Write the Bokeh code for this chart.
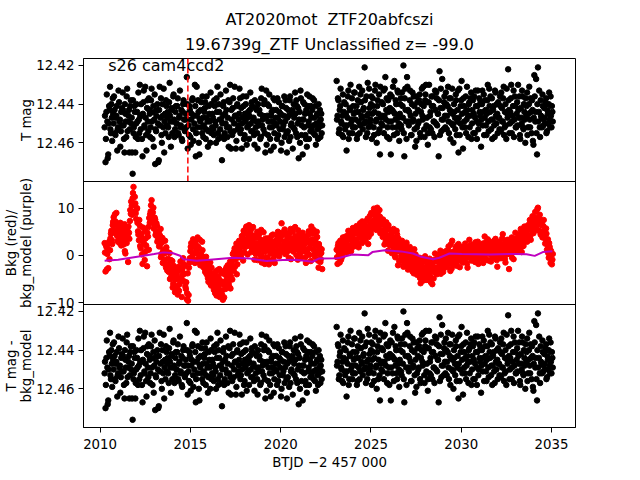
from bokeh.plotting import figure
from bokeh.models import Range1d, FixedTicker, Span, Label, Title, LinearAxis
from bokeh.embed import file_html
from bokeh.resources import INLINE

# ---------------- data ----------------
btjd_s1 = [
    2010.25, 2010.30, 2010.35, 2010.40, 2010.45, 2010.50, 2010.55, 2010.60, 2010.65, 2010.70,
    2010.75, 2010.80, 2010.85, 2010.90, 2010.95, 2011.00, 2011.05, 2011.10, 2011.15, 2011.20,
    2011.25, 2011.30, 2011.35, 2011.40, 2011.45, 2011.50, 2011.55, 2011.60, 2011.65, 2011.70,
    2011.75, 2011.80, 2011.85, 2011.90, 2011.95, 2012.00, 2012.05, 2012.10, 2012.15, 2012.20,
    2012.25, 2012.30, 2012.35, 2012.40, 2012.45, 2012.50, 2012.55, 2012.60, 2012.65, 2012.70,
    2012.75, 2012.80, 2012.85, 2012.90, 2012.95, 2013.00, 2013.05, 2013.10, 2013.15, 2013.20,
    2013.25, 2013.30, 2013.35, 2013.40, 2013.45, 2013.50, 2013.55, 2013.60, 2013.65, 2013.70,
    2013.75, 2013.80, 2013.85, 2013.90, 2013.95, 2014.00, 2014.05, 2014.10, 2014.15, 2014.20,
    2014.25, 2014.30, 2014.35, 2014.40, 2014.45, 2014.50, 2014.55, 2014.60, 2014.65, 2014.70,
    2014.75, 2014.80, 2014.85, 2014.90, 2014.95, 2015.00, 2015.05, 2015.10, 2015.15, 2015.20,
    2015.25, 2015.30, 2015.35, 2015.40, 2015.45, 2015.50, 2015.55, 2015.60, 2015.65, 2015.70,
    2015.75, 2015.80, 2015.85, 2015.90, 2015.95, 2016.00, 2016.05, 2016.10, 2016.15, 2016.20,
    2016.25, 2016.30, 2016.35, 2016.40, 2016.45, 2016.50, 2016.55, 2016.60, 2016.65, 2016.70,
    2016.75, 2016.80, 2016.85, 2016.90, 2016.95, 2017.00, 2017.05, 2017.10, 2017.15, 2017.20,
    2017.25, 2017.30, 2017.35, 2017.40, 2017.45, 2017.50, 2017.55, 2017.60, 2017.65, 2017.70,
    2017.75, 2017.80, 2017.85, 2017.90, 2017.95, 2018.00, 2018.05, 2018.10, 2018.15, 2018.20,
    2018.25, 2018.30, 2018.35, 2018.40, 2018.45, 2018.50, 2018.55, 2018.60, 2018.65, 2018.70,
    2018.75, 2018.80, 2018.85, 2018.90, 2018.95, 2019.00, 2019.05, 2019.10, 2019.15, 2019.20,
    2019.25, 2019.30, 2019.35, 2019.40, 2019.45, 2019.50, 2019.55, 2019.60, 2019.65, 2019.70,
    2019.75, 2019.80, 2019.85, 2019.90, 2019.95, 2020.00, 2020.05, 2020.10, 2020.15, 2020.20,
    2020.25, 2020.30, 2020.35, 2020.40, 2020.45, 2020.50, 2020.55, 2020.60, 2020.65, 2020.70,
    2020.75, 2020.80, 2020.85, 2020.90, 2020.95, 2021.00, 2021.05, 2021.10, 2021.15, 2021.20,
    2021.25, 2021.30, 2021.35, 2021.40, 2021.45, 2021.50, 2021.55, 2021.60, 2021.65, 2021.70,
    2021.75, 2021.80, 2021.85, 2021.90, 2021.95, 2022.00, 2022.05, 2022.10, 2022.15, 2022.20,
    2022.25, 2022.30,
]
btjd_s1b = [
    2010.27, 2010.32, 2010.37, 2010.42, 2010.47, 2010.52, 2010.57, 2010.62, 2010.67, 2010.72,
    2010.77, 2010.82, 2010.87, 2010.92, 2010.97, 2011.02, 2011.07, 2011.12, 2011.17, 2011.22,
    2011.27, 2011.32, 2011.37, 2011.42, 2011.47, 2011.52, 2011.57, 2011.62, 2011.67, 2011.72,
    2011.77, 2011.82, 2011.87, 2011.92, 2011.97, 2012.02, 2012.07, 2012.12, 2012.17, 2012.22,
    2012.27, 2012.32, 2012.37, 2012.42, 2012.47, 2012.52, 2012.57, 2012.62, 2012.67, 2012.72,
    2012.77, 2012.82, 2012.87, 2012.92, 2012.97, 2013.02, 2013.07, 2013.12, 2013.17, 2013.22,
    2013.27, 2013.32, 2013.37, 2013.42, 2013.47, 2013.52, 2013.57, 2013.62, 2013.67, 2013.72,
    2013.77, 2013.82, 2013.87, 2013.92, 2013.97, 2014.02, 2014.07, 2014.12, 2014.17, 2014.22,
    2014.27, 2014.32, 2014.37, 2014.42, 2014.47, 2014.52, 2014.57, 2014.62, 2014.67, 2014.72,
    2014.77, 2014.82, 2014.87, 2014.92, 2014.97, 2015.02, 2015.07, 2015.12, 2015.17, 2015.22,
    2015.27, 2015.32, 2015.37, 2015.42, 2015.47, 2015.52, 2015.57, 2015.62, 2015.67, 2015.72,
    2015.77, 2015.82, 2015.87, 2015.92, 2015.97, 2016.02, 2016.07, 2016.12, 2016.17, 2016.22,
    2016.27, 2016.32, 2016.37, 2016.42, 2016.47, 2016.52, 2016.57, 2016.62, 2016.67, 2016.72,
    2016.77, 2016.82, 2016.87, 2016.92, 2016.97, 2017.02, 2017.07, 2017.12, 2017.17, 2017.22,
    2017.27, 2017.32, 2017.37, 2017.42, 2017.47, 2017.52, 2017.57, 2017.62, 2017.67, 2017.72,
    2017.77, 2017.82, 2017.87, 2017.92, 2017.97, 2018.02, 2018.07, 2018.12, 2018.17, 2018.22,
    2018.27, 2018.32, 2018.37, 2018.42, 2018.47, 2018.52, 2018.57, 2018.62, 2018.67, 2018.72,
    2018.77, 2018.82, 2018.87, 2018.92, 2018.97, 2019.02, 2019.07, 2019.12, 2019.17, 2019.22,
    2019.27, 2019.32, 2019.37, 2019.42, 2019.47, 2019.52, 2019.57, 2019.62, 2019.67, 2019.72,
    2019.77, 2019.82, 2019.87, 2019.92, 2019.97, 2020.02, 2020.07, 2020.12, 2020.17, 2020.22,
    2020.27, 2020.32, 2020.37, 2020.42, 2020.47, 2020.52, 2020.57, 2020.62, 2020.67, 2020.72,
    2020.77, 2020.82, 2020.87, 2020.92, 2020.97, 2021.02, 2021.07, 2021.12, 2021.17, 2021.22,
    2021.27, 2021.32, 2021.37, 2021.42, 2021.47, 2021.52, 2021.57, 2021.62, 2021.67, 2021.72,
    2021.77, 2021.82, 2021.87, 2021.92, 2021.97, 2022.02, 2022.07, 2022.12, 2022.17, 2022.22,
    2022.27,
]
btjd_s2 = [
    2023.10, 2023.15, 2023.20, 2023.25, 2023.30, 2023.35, 2023.40, 2023.45, 2023.50, 2023.55,
    2023.60, 2023.65, 2023.70, 2023.75, 2023.80, 2023.85, 2023.90, 2023.95, 2024.00, 2024.05,
    2024.10, 2024.15, 2024.20, 2024.25, 2024.30, 2024.35, 2024.40, 2024.45, 2024.50, 2024.55,
    2024.60, 2024.65, 2024.70, 2024.75, 2024.80, 2024.85, 2024.90, 2024.95, 2025.00, 2025.05,
    2025.10, 2025.15, 2025.20, 2025.25, 2025.30, 2025.35, 2025.40, 2025.45, 2025.50, 2025.55,
    2025.60, 2025.65, 2025.70, 2025.75, 2025.80, 2025.85, 2025.90, 2025.95, 2026.00, 2026.05,
    2026.10, 2026.15, 2026.20, 2026.25, 2026.30, 2026.35, 2026.40, 2026.45, 2026.50, 2026.55,
    2026.60, 2026.65, 2026.70, 2026.75, 2026.80, 2026.85, 2026.90, 2026.95, 2027.00, 2027.05,
    2027.10, 2027.15, 2027.20, 2027.25, 2027.30, 2027.35, 2027.40, 2027.45, 2027.50, 2027.55,
    2027.60, 2027.65, 2027.70, 2027.75, 2027.80, 2027.85, 2027.90, 2027.95, 2028.00, 2028.05,
    2028.10, 2028.15, 2028.20, 2028.25, 2028.30, 2028.35, 2028.40, 2028.45, 2028.50, 2028.55,
    2028.60, 2028.65, 2028.70, 2028.75, 2028.80, 2028.85, 2028.90, 2028.95, 2029.00, 2029.05,
    2029.10, 2029.15, 2029.20, 2029.25, 2029.30, 2029.35, 2029.40, 2029.45, 2029.50, 2029.55,
    2029.60, 2029.65, 2029.70, 2029.75, 2029.80, 2029.85, 2029.90, 2029.95, 2030.00, 2030.05,
    2030.10, 2030.15, 2030.20, 2030.25, 2030.30, 2030.35, 2030.40, 2030.45, 2030.50, 2030.55,
    2030.60, 2030.65, 2030.70, 2030.75, 2030.80, 2030.85, 2030.90, 2030.95, 2031.00, 2031.05,
    2031.10, 2031.15, 2031.20, 2031.25, 2031.30, 2031.35, 2031.40, 2031.45, 2031.50, 2031.55,
    2031.60, 2031.65, 2031.70, 2031.75, 2031.80, 2031.85, 2031.90, 2031.95, 2032.00, 2032.05,
    2032.10, 2032.15, 2032.20, 2032.25, 2032.30, 2032.35, 2032.40, 2032.45, 2032.50, 2032.55,
    2032.60, 2032.65, 2032.70, 2032.75, 2032.80, 2032.85, 2032.90, 2032.95, 2033.00, 2033.05,
    2033.10, 2033.15, 2033.20, 2033.25, 2033.30, 2033.35, 2033.40, 2033.45, 2033.50, 2033.55,
    2033.60, 2033.65, 2033.70, 2033.75, 2033.80, 2033.85, 2033.90, 2033.95, 2034.00, 2034.05,
    2034.10, 2034.15, 2034.20, 2034.25, 2034.30, 2034.35, 2034.40, 2034.45, 2034.50, 2034.55,
    2034.60, 2034.65, 2034.70, 2034.75, 2034.80, 2034.85, 2034.90, 2034.95, 2035.00, 2035.05,
]
btjd_s2b = [
    2023.12, 2023.17, 2023.22, 2023.27, 2023.32, 2023.37, 2023.42, 2023.47, 2023.52, 2023.57,
    2023.62, 2023.67, 2023.72, 2023.77, 2023.82, 2023.87, 2023.92, 2023.97, 2024.02, 2024.07,
    2024.12, 2024.17, 2024.22, 2024.27, 2024.32, 2024.37, 2024.42, 2024.47, 2024.52, 2024.57,
    2024.62, 2024.67, 2024.72, 2024.77, 2024.82, 2024.87, 2024.92, 2024.97, 2025.02, 2025.07,
    2025.12, 2025.17, 2025.22, 2025.27, 2025.32, 2025.37, 2025.42, 2025.47, 2025.52, 2025.57,
    2025.62, 2025.67, 2025.72, 2025.77, 2025.82, 2025.87, 2025.92, 2025.97, 2026.02, 2026.07,
    2026.12, 2026.17, 2026.22, 2026.27, 2026.32, 2026.37, 2026.42, 2026.47, 2026.52, 2026.57,
    2026.62, 2026.67, 2026.72, 2026.77, 2026.82, 2026.87, 2026.92, 2026.97, 2027.02, 2027.07,
    2027.12, 2027.17, 2027.22, 2027.27, 2027.32, 2027.37, 2027.42, 2027.47, 2027.52, 2027.57,
    2027.62, 2027.67, 2027.72, 2027.77, 2027.82, 2027.87, 2027.92, 2027.97, 2028.02, 2028.07,
    2028.12, 2028.17, 2028.22, 2028.27, 2028.32, 2028.37, 2028.42, 2028.47, 2028.52, 2028.57,
    2028.62, 2028.67, 2028.72, 2028.77, 2028.82, 2028.87, 2028.92, 2028.97, 2029.02, 2029.07,
    2029.12, 2029.17, 2029.22, 2029.27, 2029.32, 2029.37, 2029.42, 2029.47, 2029.52, 2029.57,
    2029.62, 2029.67, 2029.72, 2029.77, 2029.82, 2029.87, 2029.92, 2029.97, 2030.02, 2030.07,
    2030.12, 2030.17, 2030.22, 2030.27, 2030.32, 2030.37, 2030.42, 2030.47, 2030.52, 2030.57,
    2030.62, 2030.67, 2030.72, 2030.77, 2030.82, 2030.87, 2030.92, 2030.97, 2031.02, 2031.07,
    2031.12, 2031.17, 2031.22, 2031.27, 2031.32, 2031.37, 2031.42, 2031.47, 2031.52, 2031.57,
    2031.62, 2031.67, 2031.72, 2031.77, 2031.82, 2031.87, 2031.92, 2031.97, 2032.02, 2032.07,
    2032.12, 2032.17, 2032.22, 2032.27, 2032.32, 2032.37, 2032.42, 2032.47, 2032.52, 2032.57,
    2032.62, 2032.67, 2032.72, 2032.77, 2032.82, 2032.87, 2032.92, 2032.97, 2033.02, 2033.07,
    2033.12, 2033.17, 2033.22, 2033.27, 2033.32, 2033.37, 2033.42, 2033.47, 2033.52, 2033.57,
    2033.62, 2033.67, 2033.72, 2033.77, 2033.82, 2033.87, 2033.92, 2033.97, 2034.02, 2034.07,
    2034.12, 2034.17, 2034.22, 2034.27, 2034.32, 2034.37, 2034.42, 2034.47, 2034.52, 2034.57,
    2034.62, 2034.67, 2034.72, 2034.77, 2034.82, 2034.87, 2034.92, 2034.97, 2035.02, 2035.07,
]

tmag_s1 = [
    12.452, 12.470, 12.444, 12.449, 12.466, 12.441, 12.431, 12.455, 12.447, 12.437,
    12.450, 12.443, 12.456, 12.446, 12.464, 12.452, 12.439, 12.448, 12.454, 12.442,
    12.434, 12.451, 12.465, 12.445, 12.457, 12.432, 12.449, 12.443, 12.453, 12.438,
    12.447, 12.476, 12.455, 12.441, 12.465, 12.450, 12.444, 12.458, 12.448, 12.430,
    12.453, 12.446, 12.467, 12.439, 12.451, 12.431, 12.456, 12.442, 12.449, 12.437,
    12.445, 12.452, 12.432, 12.458, 12.441, 12.448, 12.471, 12.454, 12.443, 12.450,
    12.469, 12.431, 12.447, 12.456, 12.440, 12.452, 12.465, 12.445, 12.438, 12.451,
    12.444, 12.457, 12.429, 12.449, 12.442, 12.455, 12.436, 12.448, 12.453, 12.441,
    12.450, 12.437, 12.456, 12.446, 12.452, 12.443, 12.459, 12.440, 12.448, 12.454,
    12.445, 12.426, 12.463, 12.451, 12.441, 12.457, 12.448, 12.438, 12.453, 12.446,
    12.430, 12.467, 12.431, 12.452, 12.444, 12.466, 12.449, 12.439, 12.455, 12.447,
    12.451, 12.442, 12.458, 12.436, 12.449, 12.454, 12.445, 12.460, 12.440, 12.452,
    12.447, 12.456, 12.441, 12.451, 12.437, 12.431, 12.458, 12.444, 12.453, 12.448,
    12.469, 12.446, 12.439, 12.455, 12.450, 12.443, 12.457, 12.438, 12.452, 12.430,
    12.463, 12.448, 12.442, 12.454, 12.431, 12.446, 12.459, 12.440, 12.451, 12.445,
    12.437, 12.453, 12.463, 12.447, 12.441, 12.456, 12.449, 12.436, 12.452, 12.444,
    12.458, 12.443, 12.450, 12.439, 12.454, 12.447, 12.461, 12.442, 12.449, 12.455,
    12.440, 12.451, 12.445, 12.457, 12.432, 12.448, 12.453, 12.438, 12.465, 12.433,
    12.446, 12.456, 12.441, 12.452, 12.464, 12.444, 12.449, 12.437, 12.455, 12.450,
    12.443, 12.458, 12.447, 12.439, 12.453, 12.445, 12.460, 12.441, 12.451, 12.436,
    12.449, 12.442, 12.465, 12.454, 12.446, 12.438, 12.457, 12.450, 12.443, 12.452,
    12.447, 12.434, 12.455, 12.441, 12.450, 12.468, 12.444, 12.433, 12.456, 12.448,
    12.439, 12.452, 12.445, 12.458, 12.462, 12.441, 12.449, 12.436, 12.454, 12.447,
    12.443, 12.451, 12.438, 12.456, 12.461, 12.446, 12.453, 12.440, 12.449, 12.457,
    12.445, 12.451,
]
tmag_s1b = [
    12.446, 12.458, 12.435, 12.468, 12.450, 12.443, 12.453, 12.440, 12.459, 12.445,
    12.436, 12.455, 12.447, 12.441, 12.453, 12.433, 12.449, 12.462, 12.444, 12.451,
    12.443, 12.458, 12.440, 12.449, 12.436, 12.454, 12.446, 12.465, 12.441, 12.450,
    12.465, 12.438, 12.452, 12.444, 12.457, 12.440, 12.449, 12.434, 12.455, 12.446,
    12.440, 12.458, 12.445, 12.433, 12.452, 12.447, 12.464, 12.438, 12.454, 12.443,
    12.457, 12.438, 12.449, 12.444, 12.462, 12.435, 12.453, 12.446, 12.440, 12.470,
    12.443, 12.451, 12.437, 12.460, 12.446, 12.432, 12.449, 12.455, 12.441, 12.447,
    12.452, 12.439, 12.446, 12.462, 12.443, 12.449, 12.435, 12.457, 12.444, 12.450,
    12.441, 12.455, 12.447, 12.433, 12.451, 12.458, 12.444, 12.438, 12.453, 12.448,
    12.452, 12.440, 12.448, 12.456, 12.443, 12.461, 12.445, 12.437, 12.459, 12.450,
    12.441, 12.455, 12.446, 12.438, 12.460, 12.448, 12.443, 12.452, 12.436, 12.457,
    12.444, 12.439, 12.453, 12.447, 12.462, 12.441, 12.449, 12.434, 12.455, 12.445,
    12.453, 12.438, 12.449, 12.460, 12.444, 12.455, 12.440, 12.448, 12.435, 12.457,
    12.450, 12.441, 12.458, 12.445, 12.433, 12.452, 12.447, 12.462, 12.439, 12.454,
    12.443, 12.456, 12.437, 12.450, 12.446, 12.463, 12.441, 12.453, 12.448, 12.432,
    12.455, 12.442, 12.450, 12.436, 12.458, 12.445, 12.440, 12.461, 12.447, 12.451,
    12.446, 12.434, 12.454, 12.441, 12.448, 12.456, 12.438, 12.452, 12.443, 12.463,
    12.449, 12.443, 12.458, 12.437, 12.451, 12.446, 12.440, 12.455, 12.447, 12.461,
    12.440, 12.449, 12.435, 12.458, 12.446, 12.452, 12.443, 12.462, 12.438, 12.447,
    12.451, 12.437, 12.456, 12.444, 12.449, 12.464, 12.441, 12.453, 12.446, 12.457,
    12.438, 12.455, 12.447, 12.443, 12.459, 12.436, 12.451, 12.445, 12.463, 12.440,
    12.453, 12.445, 12.438, 12.457, 12.442, 12.448, 12.460, 12.437, 12.451, 12.466,
    12.448, 12.440, 12.456, 12.443, 12.435, 12.451, 12.458, 12.445, 12.441, 12.453,
    12.437, 12.455, 12.447, 12.441, 12.450, 12.445, 12.458, 12.452, 12.443, 12.448,
    12.455,
]
tmag_s2 = [
    12.428, 12.446, 12.438, 12.453, 12.441, 12.449, 12.456, 12.435, 12.444, 12.451,
    12.440, 12.464, 12.447, 12.433, 12.455, 12.443, 12.450, 12.437, 12.452, 12.445,
    12.434, 12.448, 12.441, 12.456, 12.444, 12.431, 12.451, 12.439, 12.447, 12.453,
    12.442, 12.421, 12.449, 12.436, 12.455, 12.445, 12.432, 12.450, 12.440, 12.458,
    12.437, 12.452, 12.444, 12.430, 12.448, 12.441, 12.455, 12.435, 12.466, 12.447,
    12.439, 12.451, 12.433, 12.446, 12.426, 12.443, 12.457, 12.438, 12.449, 12.442,
    12.466, 12.436, 12.452, 12.444, 12.428, 12.448, 12.440, 12.455, 12.434, 12.450,
    12.445, 12.437, 12.453, 12.441, 12.420, 12.467, 12.432, 12.449, 12.426, 12.443,
    12.451, 12.438, 12.446, 12.456, 12.434, 12.448, 12.441, 12.462, 12.436, 12.452,
    12.443, 12.449, 12.435, 12.457, 12.440, 12.446, 12.431, 12.453, 12.438, 12.430,
    12.447, 12.461, 12.439, 12.452, 12.444, 12.436, 12.455, 12.441, 12.449, 12.433,
    12.450, 12.437, 12.445, 12.467, 12.423, 12.442, 12.454, 12.427, 12.448, 12.439,
    12.446, 12.434, 12.453, 12.441, 12.449, 12.437, 12.458, 12.444, 12.432, 12.451,
    12.440, 12.447, 12.435, 12.456, 12.443, 12.465, 12.432, 12.450, 12.438, 12.445,
    12.463, 12.441, 12.452, 12.436, 12.448, 12.443, 12.457, 12.439, 12.446, 12.434,
    12.450, 12.438, 12.445, 12.455, 12.433, 12.449, 12.441, 12.453, 12.437, 12.446,
    12.462, 12.440, 12.451, 12.435, 12.447, 12.443, 12.456, 12.438, 12.449, 12.432,
    12.444, 12.453, 12.437, 12.448, 12.441, 12.457, 12.434, 12.450, 12.445, 12.439,
    12.447, 12.436, 12.454, 12.442, 12.449, 12.431, 12.452, 12.440, 12.458, 12.445,
    12.422, 12.443, 12.450, 12.437, 12.455, 12.446, 12.433, 12.448, 12.441, 12.452,
    12.439, 12.430, 12.447, 12.456, 12.442, 12.450, 12.436, 12.453, 12.444, 12.460,
    12.446, 12.434, 12.452, 12.440, 12.448, 12.437, 12.455, 12.443, 12.461, 12.425,
    12.449, 12.427, 12.466, 12.421, 12.444, 12.452, 12.438, 12.447, 12.435, 12.451,
    12.442, 12.450, 12.437, 12.454, 12.445, 12.440, 12.448, 12.436, 12.452, 12.444,
]
tmag_s2b = [
    12.448, 12.437, 12.455, 12.443, 12.432, 12.450, 12.446, 12.457, 12.439, 12.453,
    12.445, 12.451, 12.436, 12.458, 12.442, 12.430, 12.448, 12.455, 12.441, 12.434,
    12.452, 12.444, 12.458, 12.438, 12.449, 12.455, 12.435, 12.446, 12.433, 12.443,
    12.450, 12.438, 12.457, 12.446, 12.429, 12.452, 12.442, 12.448, 12.436, 12.445,
    12.441, 12.456, 12.433, 12.449, 12.460, 12.438, 12.445, 12.453, 12.431, 12.450,
    12.446, 12.440, 12.455, 12.432, 12.448, 12.437, 12.452, 12.444, 12.458, 12.435,
    12.449, 12.443, 12.431, 12.456, 12.445, 12.438, 12.452, 12.433, 12.447, 12.459,
    12.440, 12.451, 12.434, 12.447, 12.455, 12.437, 12.443, 12.458, 12.431, 12.449,
    12.444, 12.433, 12.456, 12.440, 12.449, 12.436, 12.453, 12.445, 12.459, 12.439,
    12.450, 12.438, 12.455, 12.444, 12.432, 12.448, 12.441, 12.457, 12.435, 12.451,
    12.439, 12.455, 12.430, 12.446, 12.453, 12.441, 12.436, 12.449, 12.457, 12.443,
    12.434, 12.451, 12.445, 12.438, 12.456, 12.432, 12.448, 12.442, 12.453, 12.436,
    12.452, 12.440, 12.446, 12.431, 12.455, 12.443, 12.437, 12.450, 12.445, 12.460,
    12.444, 12.453, 12.438, 12.449, 12.433, 12.447, 12.456, 12.441, 12.428, 12.452,
    12.437, 12.449, 12.444, 12.455, 12.431, 12.446, 12.440, 12.452, 12.437, 12.458,
    12.443, 12.455, 12.436, 12.447, 12.441, 12.458, 12.433, 12.450, 12.444, 12.439,
    12.448, 12.433, 12.444, 12.456, 12.438, 12.451, 12.445, 12.430, 12.454, 12.441,
    12.436, 12.448, 12.458, 12.443, 12.451, 12.433, 12.446, 12.440, 12.455, 12.447,
    12.453, 12.441, 12.434, 12.449, 12.437, 12.456, 12.444, 12.451, 12.432, 12.447,
    12.438, 12.455, 12.444, 12.430, 12.449, 12.441, 12.457, 12.436, 12.452, 12.445,
    12.451, 12.443, 12.436, 12.458, 12.447, 12.433, 12.452, 12.440, 12.448, 12.437,
    12.441, 12.456, 12.445, 12.431, 12.452, 12.444, 12.438, 12.459, 12.447, 12.436,
    12.444, 12.455, 12.440, 12.449, 12.433, 12.457, 12.446, 12.452, 12.441, 12.448,
    12.447, 12.439, 12.455, 12.443, 12.450, 12.434, 12.452, 12.446, 12.441, 12.449,
]

bkg_s1 = [
    2.6, -3.4, 1.8, 0.3, -2.7, 2.9, 1.1, 4.6, 3.2, 6.4,
    8.1, 5.3, 7.2, 9.0, 4.1, 6.0, 2.7, 5.1, 3.6, 5.8,
    4.4, 2.3, 6.6, 0.4, 3.9, 5.5, -1.4, 4.8, 7.3, 8.8,
    10.5, 12.1, 14.5, 9.2, 11.0, 7.7, 10.0, 5.1, 3.2, 6.3,
    1.5, 4.6, -1.8, 3.0, 0.6, 5.2, 2.1, -2.3, 4.0, 1.2,
    6.9, 9.3, 11.7, 8.2, 10.1, 6.5, 7.6, 5.0, 6.2, 3.5,
    4.8, 2.1, 5.6, 0.3, 3.7, 1.2, -0.9, 3.1, -2.6, 0.8,
    -1.8, -3.5, 0.5, -2.9, -4.4, -1.2, -6.0, -3.1, -7.8, -5.1,
    -4.2, -8.3, -2.4, -6.1, -1.3, -4.8, -3.0, -0.6, -5.5, -2.2,
    -7.1, -9.3, -3.8, -8.4, -1.5, 0.9, 2.6, -0.2, 3.4, 1.7,
    -1.6, 2.2, 0.5, 3.8, -0.9, 1.4, -2.1, 0.2, 2.9, -1.1,
    -0.5, -2.8, -1.6, -4.0, -2.2, -5.6, -3.3, -1.5, -6.4, -4.1,
    -5.2, -7.3, -3.6, -6.0, -8.5, -4.4, -6.9, -2.9, -7.7, -5.5,
    -8.3, -9.4, -6.2, -4.0, -7.1, -2.5, -5.3, -3.4, -6.6, -1.3,
    -4.5, -2.0, 0.3, -3.3, 1.5, -0.8, 2.5, -1.9, 0.9, 3.1,
    1.3, -0.4, 4.1, 2.3, 5.2, 0.6, 3.4, 6.1, 2.0, 4.6,
    6.4, 3.0, 5.5, 1.5, 4.2, 2.6, -0.9, 3.8, 1.0, 5.0,
    2.1, 4.5, 0.2, 3.3, -1.5, 1.8, 4.9, 0.7, 2.8, -0.6,
    1.5, 3.6, -1.9, 2.4, 0.4, 4.2, 1.0, -0.7, 2.9, 0.1,
    3.2, 1.1, 5.0, 2.3, 0.6, 3.9, 6.8, 1.7, 4.4, 2.0,
    0.3, 3.0, 1.6, 4.7, -0.5, 2.5, 5.6, 1.2, 3.5, 0.8,
    2.8, 6.0, 1.4, 3.6, -0.9, 2.2, 4.5, 0.5, 3.1, 1.8,
    4.0, 0.9, 2.6, -1.6, 3.3, 1.2, 5.1, 0.1, 2.4, 6.1,
    3.4, 1.3, 4.6, -0.3, 2.2, 5.0, 0.6, -2.6, 1.7, -1.4,
    0.5, -2.9,
]
bkg_s1b = [
    0.6, 2.2, -3.0, 1.4, 2.5, -0.8, 3.6, 5.2, 2.4, 7.1,
    6.5, 8.7, 4.6, 6.8, 3.0, 5.4, 4.2, 6.9, 2.1, 4.9,
    5.9, 3.1, 0.9, 5.0, 2.6, 4.3, 6.1, 3.5, 9.6, 11.4,
    8.6, 13.2, 10.8, 12.4, 8.9, 9.8, 6.9, 4.4, 7.5, 2.0,
    3.8, 0.2, 5.9, 2.5, -1.0, 3.6, 1.0, 4.8, 6.0, 7.9,
    8.7, 10.6, 7.0, 9.1, 5.7, 8.0, 4.3, 6.8, 2.9, 4.5,
    1.9, 4.2, -0.4, 2.7, -1.6, 1.0, 0.4, -2.0, 1.7, -3.2,
    -0.7, -2.4, -5.0, -1.0, -3.7, -6.8, -2.2, -4.9, -6.5, -3.6,
    -6.8, -3.3, -7.5, -5.0, -2.7, -8.8, -4.1, -1.8, -3.9, -6.6,
    -5.7, -8.0, -9.6, -2.6, -0.6, 1.8, -1.2, 2.1, 0.4, -0.9,
    3.0, 0.8, -1.4, 1.9, -0.3, 3.3, 0.1, -1.8, 1.1, -2.5,
    -1.2, -3.5, -0.3, -2.9, -4.8, -1.9, -3.8, -6.1, -2.6, -5.0,
    -6.5, -4.1, -8.0, -5.6, -3.2, -7.1, -4.9, -8.8, -6.0, -3.8,
    -7.4, -5.6, -8.9, -3.1, -6.0, -4.6, -2.1, -5.9, -3.8, -7.0,
    -2.8, -5.1, -1.0, 0.8, -2.4, 0.2, -4.0, 1.9, -0.4, 2.2,
    2.7, 0.4, 3.0, -1.1, 4.6, 1.7, 5.7, 2.9, 0.2, 3.9,
    2.2, 5.0, 0.7, 3.4, 6.0, 1.9, 4.1, 0.3, 2.7, -1.0,
    3.9, 1.2, 2.6, 5.4, -0.3, 3.0, 1.4, -1.8, 3.6, 2.2,
    -0.4, 2.6, 0.9, 3.4, -1.2, 1.8, 4.4, 0.3, -1.6, 2.1,
    0.4, 4.1, 2.5, -0.2, 3.5, 1.4, 4.8, 0.9, 2.9, 5.5,
    2.4, 0.6, 3.8, 1.0, 4.2, 2.0, -0.8, 3.3, 5.0, 2.1,
    1.6, 4.1, 0.1, 2.9, 5.3, 1.1, 3.7, -0.5, 2.6, 4.8,
    1.9, 3.7, -0.4, 2.7, 0.6, 4.3, 1.5, 3.0, -1.2, 4.7,
    2.5, 5.4, 0.3, 3.1, 1.0, 3.9, -1.1, 2.4, 0.2, -0.8,
    1.3,
]
bkg_s2 = [
    1.2, -1.8, 2.6, 0.3, 3.1, -0.9, 1.9, 3.8, 0.8, 2.3,
    4.0, 1.5, 3.3, 5.2, 2.2, 4.4, 0.9, 3.6, 5.8, 2.7,
    4.9, 3.0, 6.2, 2.1, 5.4, 3.7, 6.8, 4.5, 2.6, 5.9,
    4.2, 6.5, 3.1, 7.3, 5.0, 2.4, 6.0, 8.4, 4.6, 7.0,
    8.8, 6.3, 9.4, 7.1, 5.4, 10.1, 7.8, 6.0, 8.2, 5.1,
    6.6, 3.9, 5.2, 2.3, 4.7, 7.0, 3.4, 1.0, 5.5, 2.8,
    4.1, 0.5, 3.2, 5.6, 1.6, -0.4, 2.7, 4.4, -2.1, 1.9,
    0.8, 2.9, -0.9, 1.6, -2.4, 0.2, 2.2, -1.5, 1.1, -3.0,
    -0.6, 1.8, -2.0, 0.4, -3.4, -1.2, 1.3, -2.7, -0.3, -4.1,
    -1.7, -3.6, -0.5, -5.9, -2.5, -1.0, -4.3, -2.9, -0.2, -3.8,
    -5.2, -1.9, -3.2, -0.7, -4.6, -2.4, -6.1, -1.4, -3.5, 0.4,
    -2.6, -4.0, -0.9, -3.0, -1.6, 1.0, -2.2, -0.4, -3.5, 0.6,
    -1.3, 0.9, -2.5, -0.2, 1.9, -1.0, -3.3, 0.3, 3.1, -1.8,
    0.7, -0.8, 1.6, -2.2, 0.1, 2.4, -1.2, 0.9, -0.4, 1.5,
    -1.5, 0.4, 2.0, -0.6, 1.1, -2.6, 0.8, 3.3, -0.2, 1.3,
    0.2, 1.9, -1.0, 0.7, 2.8, -0.5, 1.5, -1.8, 0.6, 2.2,
    1.0, -0.7, 2.5, 0.3, 4.0, 1.4, -0.9, 2.0, 0.5, 3.0,
    1.2, -1.3, 2.7, 0.6, 1.9, -0.2, 3.5, 1.0, -2.4, 2.3,
    0.8, 2.9, -0.6, 1.6, 4.5, 0.2, 2.4, -1.5, 1.3, 3.3,
    1.0, -2.9, 2.6, 0.4, 3.8, 1.7, -0.8, 2.2, 4.8, 0.9,
    3.0, 1.5, 4.3, 2.2, 5.6, 0.7, 3.6, 2.0, 6.1, 3.9,
    5.0, 2.9, 6.4, 4.1, 7.5, 3.3, 5.8, 8.3, 4.7, 6.9,
    9.2, 6.0, 7.8, 10.1, 5.3, 8.6, 4.4, 7.1, 3.8, 6.2,
    4.9, 2.5, 5.7, 1.2, 3.4, -0.5, 1.8, -1.6, 0.4, -0.9,
]
bkg_s2b = [
    -0.4, 2.0, 0.6, -1.5, 1.5, 2.7, -0.2, 1.2, 3.0, 1.6,
    2.9, 0.6, 4.2, 2.0, 3.8, 1.3, 5.0, 3.0, 4.5, 1.9,
    3.4, 5.6, 2.8, 4.6, 1.7, 6.0, 3.9, 5.1, 7.2, 3.5,
    5.5, 3.6, 6.1, 4.9, 7.8, 3.9, 5.7, 6.5, 9.0, 5.6,
    7.4, 9.9, 6.2, 8.3, 6.7, 8.9, 7.0, 9.6, 4.7, 6.8,
    5.0, 7.6, 4.3, 6.0, 3.0, 5.9, 4.0, 6.4, 2.2, 4.3,
    2.2, 4.9, 1.1, 3.8, 0.0, 2.5, 5.2, 0.9, 3.6, -1.2,
    2.0, -0.2, 3.1, 0.6, -1.6, 1.8, -0.5, 2.7, -2.2, 0.4,
    -1.4, 0.9, -2.9, -0.6, 1.0, -3.8, -1.9, 0.2, -2.3, -1.0,
    -3.0, -0.9, -4.8, -2.0, -3.3, -1.4, -5.3, -2.5, -4.0, -1.2,
    -2.8, -4.4, -1.0, -3.7, -5.7, -2.0, -3.0, -4.9, -0.9, -2.7,
    -1.3, -3.3, -0.4, -2.5, 0.3, -3.9, -1.0, -2.8, 0.1, -1.9,
    0.4, -2.2, -0.6, 1.2, -1.7, 0.0, 2.3, -2.8, 0.7, -0.8,
    -1.5, 1.0, -0.3, 2.1, -1.0, 0.5, -2.5, 1.8, 0.2, -0.9,
    1.0, -0.9, 2.5, 0.2, -1.7, 1.6, -0.4, 0.6, 2.2, -1.1,
    1.2, -0.3, 2.4, -1.4, 1.0, 0.1, 2.9, -0.8, 1.7, 0.3,
    2.2, 0.1, -1.6, 1.6, -0.3, 2.8, 0.8, 3.4, -1.1, 1.4,
    0.2, 2.5, -0.6, 1.5, 3.1, 0.1, 2.0, -1.0, 1.2, 2.8,
    2.0, -0.2, 1.1, 3.6, 0.6, 2.3, -0.7, 2.8, 0.3, 1.8,
    2.6, 0.3, 3.4, 1.2, -0.5, 2.9, 0.8, 3.5, 1.6, 2.5,
    2.2, 4.0, 0.8, 3.2, 4.9, 1.9, 4.4, 2.8, 5.3, 3.4,
    4.3, 6.0, 3.5, 5.4, 4.1, 6.6, 5.2, 7.0, 5.9, 8.0,
    7.6, 5.4, 9.8, 6.7, 8.0, 5.0, 7.3, 6.4, 4.7, 7.5,
    5.3, 3.5, 4.6, 2.3, 0.5, 2.6, -0.4, 1.0, -1.9, 0.3,
]

model_btjd = [2010.25, 2011.00, 2012.23, 2013.00, 2013.50, 2014.00, 2014.43, 2014.61,
              2015.35, 2016.08, 2017.37, 2018.28, 2019.20, 2020.12, 2020.85, 2021.77,
              2022.14, 2022.30, 2023.10, 2023.28, 2023.96, 2024.86, 2025.08, 2025.76,
              2026.66, 2027.33, 2027.78, 2028.44, 2028.79, 2029.35, 2030.03, 2031.60,
              2032.95, 2033.62, 2034.07, 2034.52, 2035.05]
bkg_model = [-1.15, -0.9, -0.2, 0.3, 0.64, 0.5, -0.08, -0.8,
             -1.15, -0.9, -0.5, -0.65, -1.2, -1.0, -0.9, -1.35,
             -0.65, -0.65, -0.6, -0.5, 0.2, 0.05, 0.7, 1.1,
             0.85, 0.4, -0.3, -0.8, -0.5, 0.4, 0.3, 0.2,
             0.3, 0.25, -0.1, 0.7, 0.9]

btjd = btjd_s1 + btjd_s1b + btjd_s2 + btjd_s2b
tmag = tmag_s1 + tmag_s1b + tmag_s2 + tmag_s2b
bkg = bkg_s1 + bkg_s1b + bkg_s2 + bkg_s2b
tmag_minus_model = tmag  # visually identical to the top panel

event_btjd = 2014.86
title_line1 = "AT2020mot\u00a0 ZTF20abfcszi"
title_line2 = "19.6739g_ZTF Unclassified z= -99.0"
sector_text = "s26 cam4ccd2"
x_ticks = [2010, 2015, 2020, 2025, 2030, 2035]
mag_ticks = [12.42, 12.44, 12.46]
bkg_ticks = [-10, 0, 10]
bkg_tick_labels = ["\u221210", "0", "10"]
ylabel_top = "T mag"
ylabel_mid = "Bkg (red)/\nbkg_model (purple)"
ylabel_bot = "T mag -\nbkg_model"

# panel view limits (bottom value, top value)
mag_lo, mag_hi = 12.4800, 12.4164
bkg_lo, bkg_hi = -10.4, 15.65

# ---------------- figure ----------------
FONT = "DejaVu Sans"
FS = "13.33px"
x_rng = Range1d(2009.08, 2036.33)

dm = mag_hi - mag_lo
db = bkg_hi - bkg_lo
p = figure(width=620, height=475, x_range=x_rng, y_range=Range1d(0, 3),
           output_backend="svg", toolbar_location=None, title=None,
           min_border_left=81, min_border_right=45, min_border_top=58, min_border_bottom=48)
p.extra_y_ranges = {
    "top": Range1d(mag_lo - 2 * dm, mag_hi),
    "mid": Range1d(bkg_lo - db, bkg_hi + db),
    "bot": Range1d(mag_lo, mag_hi + 2 * dm),
}
p.grid.visible = False
p.outline_line_color = "black"
p.outline_line_width = 1
p.outline_line_alpha = 1

# panel separators
for loc in (1, 2):
    p.add_layout(Span(location=loc, dimension="width", line_color="black", line_width=1))

# y axis: one axis carrying the ticks of all three panels
tick_pos, tick_lab = [], []
for v in mag_ticks:
    tick_pos.append(round(2 + (v - mag_lo) / dm, 6)); tick_lab.append(f"{v:.2f}")
for v, lab in zip(bkg_ticks, bkg_tick_labels):
    tick_pos.append(round(1 + (v - bkg_lo) / db, 6)); tick_lab.append(lab)
for v in mag_ticks:
    tick_pos.append(round((v - mag_lo) / dm, 6)); tick_lab.append(f"{v:.2f}")
ya = p.yaxis[0]
ya.ticker = FixedTicker(ticks=tick_pos)
ya.major_label_overrides = dict(zip(tick_pos, tick_lab))
ya.minor_tick_line_color = None
ya.major_tick_in = 0
ya.major_tick_out = 5
ya.major_tick_line_color = "black"
ya.axis_line_color = "black"
ya.major_label_standoff = 4
ya.major_label_text_font = FONT
ya.major_label_text_font_size = FS
ya.major_label_text_color = "black"

# second, outer left axis that only carries the per-panel titles
la = LinearAxis(ticker=FixedTicker(ticks=[0.5, 1.5, 2.5]),
                major_label_overrides={0.5: ylabel_bot, 1.5: ylabel_mid, 2.5: ylabel_top},
                major_label_orientation="parallel",
                axis_line_color=None, major_tick_line_color=None, minor_tick_line_color=None,
                major_tick_in=0, major_tick_out=0, major_label_standoff=0,
                major_label_text_font=FONT, major_label_text_font_size=FS,
                major_label_text_line_height=1.0,
                major_label_text_color="black")
p.add_layout(la, "left")

xa = p.xaxis[0]
xa.ticker = FixedTicker(ticks=x_ticks)
xa.minor_tick_line_color = None
xa.major_tick_in = 0
xa.major_tick_out = 5
xa.major_tick_line_color = "black"
xa.axis_line_color = "black"
xa.major_label_standoff = 6
xa.major_label_text_font = FONT
xa.major_label_text_font_size = FS
xa.major_label_text_color = "black"
xa.axis_label = "BTJD \u22122 457 000"
xa.axis_label_text_font = FONT
xa.axis_label_text_font_size = FS
xa.axis_label_text_font_style = "normal"
xa.axis_label_text_color = "black"
xa.axis_label_standoff = 3

# data
p.scatter(btjd, tmag, size=5.5, color="black", y_range_name="top")
p.segment(x0=[event_btjd], y0=[mag_lo], x1=[event_btjd], y1=[mag_hi], y_range_name="top",
          line_color="red", line_width=1.5, line_dash="6 3")
p.scatter(btjd, bkg, size=5.5, color="red", y_range_name="mid")
p.line(model_btjd, bkg_model, line_color="#bf00bf", line_width=2, y_range_name="mid")
p.scatter(btjd, tmag_minus_model, size=5.5, color="black", y_range_name="bot")

p.add_layout(Label(x=2010.45, y=12.4199, y_range_name="top", text=sector_text,
                   text_font=FONT, text_font_size="16px", text_color="black",
                   text_align="left", text_baseline="alphabetic"))

# two-line title
p.add_layout(Title(text=title_line2, align="center", text_font=FONT, text_font_size="16px",
                   text_font_style="normal", text_color="black", standoff=9), "above")
p.add_layout(Title(text=title_line1, align="center", text_font=FONT, text_font_size="16px",
                   text_font_style="normal", text_color="black", standoff=0), "above")

open("out.html", "w").write(file_html(p, INLINE))
